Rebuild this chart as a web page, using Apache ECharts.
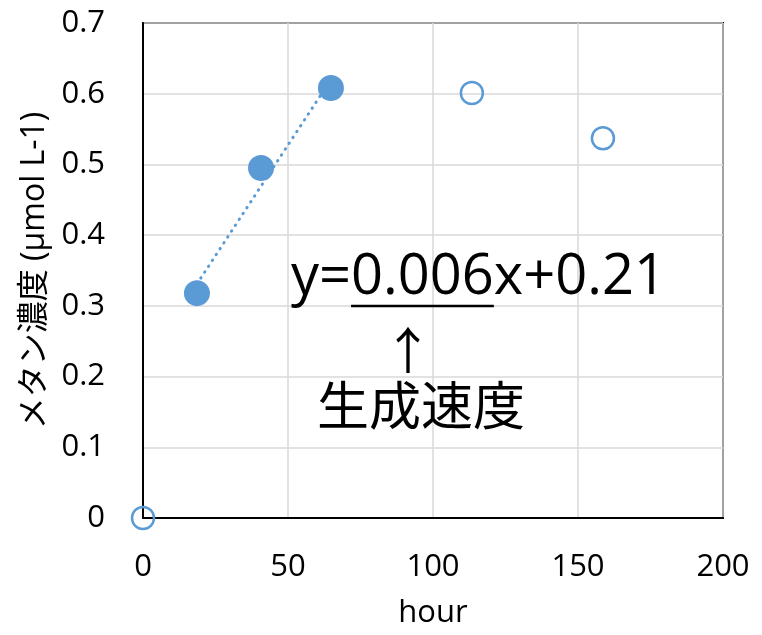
<!DOCTYPE html>
<html>
<head>
<meta charset="utf-8">
<script src="https://cdn.jsdelivr.net/npm/echarts@6/dist/echarts.min.js"></script>
<style>
html,body{margin:0;padding:0;background:#fff;}
#chart{width:762px;height:635px;}
</style>
</head>
<body>
<div id="chart"></div>
<script>
// Data
var filledHours = [18.6, 40.7, 64.8];
var filledConc = [0.318, 0.495, 0.608];
var hollowHours = [0, 113.4, 158.6];
var hollowConc = [0, 0.601, 0.537];
var trendHours = [18.6, 64.8];
var trendConc = [0.331, 0.620];
var xTicks = [0, 50, 100, 150, 200];
var yTicks = [0, 0.1, 0.2, 0.3, 0.4, 0.5, 0.6, 0.7];
var equationText = 'y=0.006x+0.21';
var underlinedPart = '0.006';
var rateText = '生成速度';
var arrowText = '↑';
var xName = 'hour';
var yName = 'メタン濃度 (μmol L-1)';

function zip(a, b) { return a.map(function (v, i) { return [v, b[i]]; }); }

var FONT = '"Open Sans", "Noto Sans CJK JP", sans-serif';
var BLUE = '#5b9bd5';

var chart = echarts.init(document.getElementById('chart'), null, { renderer: 'canvas' });

// measure equation parts to place the underline
var eqFontSize = 56;
var ctx = document.createElement('canvas').getContext('2d');
ctx.font = eqFontSize + 'px "Open Sans"';
var eqLeft = 291;
var preW = ctx.measureText(equationText.slice(0, equationText.indexOf(underlinedPart))).width;
var partW = ctx.measureText(underlinedPart).width;

var option = {
  animation: false,
  backgroundColor: '#fff',
  grid: {
    left: 143, right: 39, top: 23, bottom: 117,
    show: true, borderColor: '#000', borderWidth: 2, backgroundColor: 'transparent'
  },
  xAxis: {
    type: 'value', min: xTicks[0], max: xTicks[xTicks.length - 1], interval: 50,
    name: xName, nameLocation: 'middle', nameGap: 80,
    nameTextStyle: { fontFamily: FONT, fontSize: 31, color: '#000' },
    axisLine: { show: true, lineStyle: { color: '#000', width: 2 } },
    axisTick: { show: false },
    axisLabel: { fontFamily: FONT, fontSize: 31, color: '#000', margin: 34 },
    splitLine: { show: true, lineStyle: { color: '#d9d9d9', width: 1.5 } }
  },
  yAxis: {
    type: 'value', min: yTicks[0], max: yTicks[yTicks.length - 1], interval: 0.1,
    name: yName, nameLocation: 'middle', nameGap: 92, nameRotate: 90,
    nameTextStyle: { fontFamily: FONT, fontSize: 32, color: '#000' },
    axisLine: { show: true, lineStyle: { color: '#000', width: 2 } },
    axisTick: { show: false },
    axisLabel: { fontFamily: FONT, fontSize: 31, color: '#000', margin: 38,
      formatter: function (v) { return String(Math.round(v * 10) / 10); } },
    splitLine: { show: true, lineStyle: { color: '#d9d9d9', width: 1.5 } }
  },
  series: [
    {
      type: 'line', data: zip(trendHours, trendConc), symbol: 'none', clip: false,
      lineStyle: { color: BLUE, width: 3, type: [0.5, 6.5], cap: 'round' }, z: 2
    },
    {
      type: 'scatter', data: zip(filledHours, filledConc), symbol: 'circle', symbolSize: 26, clip: false,
      itemStyle: { color: BLUE, opacity: 1 }, z: 3
    },
    {
      type: 'scatter', data: zip(hollowHours, hollowConc), symbol: 'circle', symbolSize: 22, clip: false,
      itemStyle: { color: 'rgba(255,255,255,0)', borderColor: BLUE, borderWidth: 2.5, opacity: 1 }, z: 3
    }
  ],
  graphic: [
    { type: 'text', left: eqLeft, top: 250, z: 10,
      style: { text: equationText, font: eqFontSize + 'px "Open Sans"', fill: '#000' } },
    { type: 'line', z: 10,
      shape: { x1: eqLeft + preW, y1: 306, x2: eqLeft + preW + partW, y2: 306 },
      style: { stroke: '#000', lineWidth: 2.5 } },
    { type: 'text', x: 408, y: 350, z: 10,
      style: { text: arrowText, font: '50px "Noto Sans CJK JP"', fill: '#000', align: 'center', verticalAlign: 'middle' } },
    { type: 'text', x: 317, y: 405, z: 10,
      style: { text: rateText, font: '52px "Noto Sans CJK JP"', fill: '#000', align: 'left', verticalAlign: 'middle' } }
  ]
};
chart.setOption(option);
</script>
</body>
</html>
